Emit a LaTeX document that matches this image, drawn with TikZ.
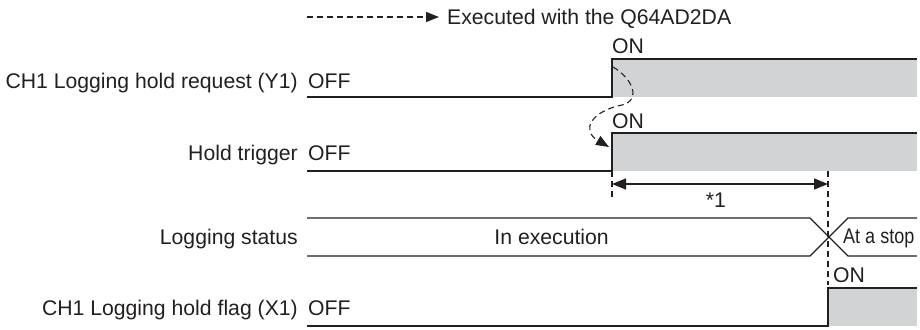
\documentclass[tikz,border=0pt]{standalone}
\usepackage{fontspec}
\setmainfont{Liberation Sans}
\usetikzlibrary{arrows.meta}
\definecolor{ink}{HTML}{231F20}
\definecolor{holdgray}{HTML}{D1D3D4}
\begin{document}
\begin{tikzpicture}[x=1pt,y=-1pt,
  every node/.style={inner sep=0pt, font=\fontsize{21.2}{25}\selectfont, text=ink},
  wave/.style={draw=ink, line width=1.2pt, line join=miter},
  guide/.style={draw=ink, line width=1.1pt, dash pattern=on 6pt off 4pt},
  tri/.style={-{Triangle[length=13pt,width=10pt]}},
  dimline/.style={draw=ink, line width=1.2pt, {Triangle[length=14pt,width=11pt]}-{Triangle[length=14pt,width=11pt]}},
  lab/.style={anchor=base east},
  lvl/.style={anchor=base west}]
\useasboundingbox (0,0) rectangle (920,329);

% legend
\coordinate (legA) at (307,17);
\node[lvl] (legT) at (447,25) {Executed with the Q64AD2DA};
\coordinate (legB) at (439,17);
\draw[guide, tri] (legA) -- (legB);

% row 1
\node[lab] (l1) at (298,88) {CH1 Logging hold request (Y1)};
\node[lvl] (off1) at (308,88) {OFF};
\fill[holdgray] (612,59) rectangle (917,97);
\coordinate (r1a) at (307,97);
\coordinate (r1b) at (612,97);
\coordinate (r1c) at (612,59);
\coordinate (r1d) at (917,59);
\draw[wave] (r1a) -- (r1b) -- (r1c) -- (r1d);
\node[lvl] (on1) at (612,54) {ON};

% row 2
\node[lab] (l2) at (298,160) {Hold trigger};
\node[lvl] (off2) at (308,160) {OFF};
\fill[holdgray] (612,133) rectangle (917,171);
\coordinate (r2a) at (307,171);
\coordinate (r2b) at (612,171);
\coordinate (r2c) at (612,133);
\coordinate (r2d) at (917,133);
\draw[wave] (r2a) -- (r2b) -- (r2c) -- (r2d);
\node[lvl] (on2) at (612,128) {ON};

% curved dashed arrow
\coordinate (cs) at (613,67);
\coordinate (cm) at (622,105);
\coordinate (ce) at (609,147);
\draw[guide, tri] (cs) .. controls (632,78) and (642,100) .. (cm)
   .. controls (592,111) and (580,130) .. (ce);

% timing guides
\coordinate (g1a) at (612,171);
\coordinate (g1b) at (612,198);
\coordinate (g2a) at (828,171);
\coordinate (g2b) at (828,285);
\draw[guide] (g1a) -- (g1b);
\draw[guide] (g2a) -- (g2b);
\coordinate (d1) at (612,184);
\coordinate (d2) at (828,184);
\draw[dimline] (d1) -- (d2);
\node[anchor=base] (star) at (716,207) {*1};

% row 3
\node[lab] (l3) at (298,244) {Logging status};
\coordinate (r3a) at (307,218);
\coordinate (r3b) at (810,218);
\coordinate (r3c) at (848,256);
\coordinate (r3d) at (917,256);
\coordinate (r3e) at (307,256);
\coordinate (r3f) at (810,256);
\coordinate (r3g) at (848,218);
\coordinate (r3h) at (917,218);
\draw[wave] (r3a) -- (r3b) -- (r3c) -- (r3d);
\draw[wave] (r3e) -- (r3f) -- (r3g) -- (r3h);
\node[anchor=base east] (exe) at (609,244) {In execution};
\node[lvl] (stop) at (843,243) {\scalebox{0.85}[1]{At a stop}};

% row 4
\node[lab] (l4) at (298,315) {CH1 Logging hold flag (X1)};
\node[lvl] (off4) at (308,315) {OFF};
\fill[holdgray] (828,288) rectangle (917,326);
\coordinate (r4a) at (307,326);
\coordinate (r4b) at (828,326);
\coordinate (r4c) at (828,288);
\coordinate (r4d) at (917,288);
\draw[wave] (r4a) -- (r4b) -- (r4c) -- (r4d);
\node[lvl] (on4) at (833,282) {ON};
\end{tikzpicture}
\end{document}
